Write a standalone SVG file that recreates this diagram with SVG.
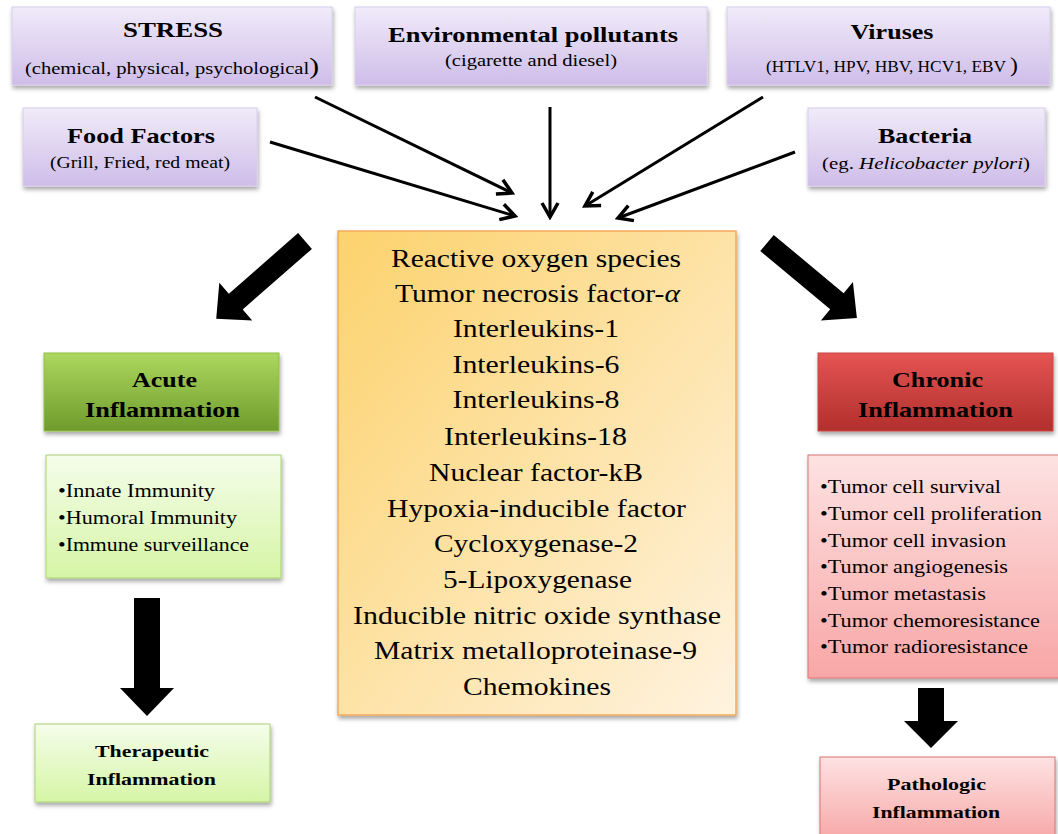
<svg xmlns="http://www.w3.org/2000/svg" width="1058" height="834" viewBox="0 0 1058 834">
<style>
text{font-family:'Liberation Serif','Times New Roman','DejaVu Serif',serif;fill:#000;text-anchor:middle}
.t{font-weight:bold;font-size:21px}
.s{font-size:16px}
.c{font-size:26px}
.l{font-size:18px;text-anchor:start}
.b{font-weight:bold;font-size:21px}
.p{font-weight:bold;font-size:17px}
.thin{stroke:#000;stroke-width:3;fill:none}
</style>
<defs>
<linearGradient id="gPur" x1="0" y1="0" x2="0" y2="1"><stop offset="0" stop-color="#f0ebf9"/><stop offset="1" stop-color="#cfbde9"/></linearGradient>
<linearGradient id="gOr" x1="0" y1="0" x2="1" y2="1"><stop offset="0" stop-color="#fcd26c"/><stop offset="1" stop-color="#fff3e0"/></linearGradient>
<linearGradient id="gGrn" x1="0" y1="0" x2="0" y2="1"><stop offset="0" stop-color="#acd85e"/><stop offset="1" stop-color="#6f9b2c"/></linearGradient>
<linearGradient id="gLg" x1="0" y1="0" x2="0" y2="1"><stop offset="0" stop-color="#f4fdea"/><stop offset="1" stop-color="#d6f5a6"/></linearGradient>
<linearGradient id="gRed" x1="0" y1="0" x2="0" y2="1"><stop offset="0" stop-color="#e45452"/><stop offset="1" stop-color="#b22f2d"/></linearGradient>
<linearGradient id="gPk" x1="0" y1="0" x2="0" y2="1"><stop offset="0" stop-color="#fde2e2"/><stop offset="1" stop-color="#f8a6a6"/></linearGradient>
<filter id="sh" x="-10%" y="-10%" width="120%" height="130%"><feDropShadow dx="1" dy="3" stdDeviation="2" flood-color="#000" flood-opacity="0.35"/></filter>
<marker id="ah" markerUnits="userSpaceOnUse" markerWidth="20" markerHeight="20" viewBox="0 0 20 20" refX="17" refY="10" orient="auto"><path d="M3,2 L17,10 L3,18" fill="none" stroke="#000" stroke-width="3.5"/></marker>
</defs>

<g id="stress">
<rect x="12" y="7" width="320" height="78" fill="url(#gPur)" stroke="#d8cdec" filter="url(#sh)"/>
<text class="t" x="173" y="37" textLength="100" lengthAdjust="spacingAndGlyphs">STRESS</text>
<text class="s" x="172" y="74" font-size="17" textLength="294" lengthAdjust="spacingAndGlyphs">(chemical, physical, psychological<tspan font-size="23">)</tspan></text>
</g>
<g id="pollutants">
<rect x="355" y="7" width="352" height="78" fill="url(#gPur)" stroke="#d8cdec" filter="url(#sh)"/>
<text class="t" x="533" y="42" font-size="22" textLength="290" lengthAdjust="spacingAndGlyphs">Environmental pollutants</text>
<text class="s" x="531" y="66" font-size="15" textLength="172" lengthAdjust="spacingAndGlyphs">(cigarette and diesel)</text>
</g>
<g id="viruses">
<rect x="727" y="7" width="323" height="78" fill="url(#gPur)" stroke="#d8cdec" filter="url(#sh)"/>
<text class="t" x="892" y="39" textLength="83" lengthAdjust="spacingAndGlyphs">Viruses</text>
<text class="s" x="892" y="72" font-size="15" textLength="252" lengthAdjust="spacingAndGlyphs">(HTLV1, HPV, HBV, HCV1, EBV <tspan font-size="22">)</tspan></text>
</g>
<g id="food">
<rect x="23" y="108" width="234" height="78" fill="url(#gPur)" stroke="#d8cdec" filter="url(#sh)"/>
<text class="t" x="141" y="143" textLength="148" lengthAdjust="spacingAndGlyphs">Food Factors</text>
<text class="s" x="140" y="168" textLength="180" lengthAdjust="spacingAndGlyphs">(Grill, Fried, red meat)</text>
</g>
<g id="bacteria">
<rect x="808" y="108" width="237" height="78" fill="url(#gPur)" stroke="#d8cdec" filter="url(#sh)"/>
<text class="t" x="925" y="143" textLength="94" lengthAdjust="spacingAndGlyphs">Bacteria</text>
<text class="s" x="926" y="169" textLength="208" lengthAdjust="spacingAndGlyphs">(eg. <tspan font-style="italic">Helicobacter pylori</tspan>)</text>
</g>

<g id="mediators">
<rect x="338" y="231" width="398" height="484" fill="url(#gOr)" stroke="#f5a95b" stroke-width="1.5" filter="url(#sh)"/>
<text class="c" x="536" y="267" textLength="290" lengthAdjust="spacingAndGlyphs">Reactive oxygen species</text>
<text class="c" x="537.5" y="302" textLength="285" lengthAdjust="spacingAndGlyphs">Tumor necrosis factor-<tspan font-style="italic">α</tspan></text>
<text class="c" x="536" y="337" textLength="166" lengthAdjust="spacingAndGlyphs">Interleukins-1</text>
<text class="c" x="536" y="373" textLength="167" lengthAdjust="spacingAndGlyphs">Interleukins-6</text>
<text class="c" x="536" y="408" textLength="167" lengthAdjust="spacingAndGlyphs">Interleukins-8</text>
<text class="c" x="535.5" y="445" textLength="183" lengthAdjust="spacingAndGlyphs">Interleukins-18</text>
<text class="c" x="536" y="481" textLength="214" lengthAdjust="spacingAndGlyphs">Nuclear factor-kB</text>
<text class="c" x="536.5" y="517" textLength="299" lengthAdjust="spacingAndGlyphs">Hypoxia-inducible factor</text>
<text class="c" x="536" y="552" textLength="204" lengthAdjust="spacingAndGlyphs">Cycloxygenase-2</text>
<text class="c" x="537.5" y="588" textLength="189" lengthAdjust="spacingAndGlyphs">5-Lipoxygenase</text>
<text class="c" x="537" y="624" textLength="368" lengthAdjust="spacingAndGlyphs">Inducible nitric oxide synthase</text>
<text class="c" x="535.5" y="659" textLength="323" lengthAdjust="spacingAndGlyphs">Matrix metalloproteinase-9</text>
<text class="c" x="537" y="695" textLength="148" lengthAdjust="spacingAndGlyphs">Chemokines</text>
</g>

<g id="acute">
<rect x="44" y="353" width="235" height="78" fill="url(#gGrn)" stroke="#8fbf45" filter="url(#sh)"/>
<text class="b" x="164.5" y="387" textLength="65" lengthAdjust="spacingAndGlyphs">Acute</text>
<text class="b" x="162.5" y="417" textLength="155" lengthAdjust="spacingAndGlyphs">Inflammation</text>
</g>
<g id="acute-list">
<rect x="46" y="455" width="235" height="123" fill="url(#gLg)" stroke="#a9d274" filter="url(#sh)"/>
<text class="l" x="58" y="497" textLength="157" lengthAdjust="spacingAndGlyphs">•Innate Immunity</text>
<text class="l" x="58" y="524" textLength="179" lengthAdjust="spacingAndGlyphs">•Humoral Immunity</text>
<text class="l" x="58" y="551" textLength="191" lengthAdjust="spacingAndGlyphs">•Immune surveillance</text>
</g>
<g id="therapeutic">
<rect x="35" y="724" width="235" height="78" fill="url(#gLg)" stroke="#a9d274" filter="url(#sh)"/>
<text class="p" x="152" y="757" textLength="114" lengthAdjust="spacingAndGlyphs">Therapeutic</text>
<text class="p" x="151.5" y="785" textLength="129" lengthAdjust="spacingAndGlyphs">Inflammation</text>
</g>

<g id="chronic">
<rect x="818" y="353" width="235" height="78" fill="url(#gRed)" stroke="#c94644" filter="url(#sh)"/>
<text class="b" x="937.5" y="387" textLength="91" lengthAdjust="spacingAndGlyphs">Chronic</text>
<text class="b" x="935.5" y="417" textLength="155" lengthAdjust="spacingAndGlyphs">Inflammation</text>
</g>
<g id="chronic-list">
<rect x="808" y="455" width="252" height="223" fill="url(#gPk)" stroke="#d87474" filter="url(#sh)"/>
<text class="l" x="820" y="493" textLength="181" lengthAdjust="spacingAndGlyphs">•Tumor cell survival</text>
<text class="l" x="820" y="520" textLength="222" lengthAdjust="spacingAndGlyphs">•Tumor cell proliferation</text>
<text class="l" x="820" y="547" textLength="186" lengthAdjust="spacingAndGlyphs">•Tumor cell invasion</text>
<text class="l" x="820" y="573" textLength="188" lengthAdjust="spacingAndGlyphs">•Tumor angiogenesis</text>
<text class="l" x="820" y="600" textLength="166" lengthAdjust="spacingAndGlyphs">•Tumor metastasis</text>
<text class="l" x="820" y="627" textLength="220" lengthAdjust="spacingAndGlyphs">•Tumor chemoresistance</text>
<text class="l" x="820" y="653" textLength="208" lengthAdjust="spacingAndGlyphs">•Tumor radioresistance</text>
</g>
<g id="pathologic">
<rect x="820" y="757" width="235" height="85" fill="url(#gPk)" stroke="#d87474" filter="url(#sh)"/>
<text class="p" x="936.5" y="790" textLength="99" lengthAdjust="spacingAndGlyphs">Pathologic</text>
<text class="p" x="936" y="818" textLength="128" lengthAdjust="spacingAndGlyphs">Inflammation</text>
</g>

<g id="connectors">
<line class="thin" x1="315" y1="97" x2="512" y2="193" marker-end="url(#ah)"/>
<line class="thin" x1="270" y1="142" x2="515" y2="216" marker-end="url(#ah)"/>
<line class="thin" x1="550" y1="107" x2="550" y2="217" marker-end="url(#ah)"/>
<line class="thin" x1="763" y1="97" x2="585" y2="206" marker-end="url(#ah)"/>
<line class="thin" x1="795" y1="152" x2="618" y2="218" marker-end="url(#ah)"/>
<polygon transform="translate(305,241) rotate(138.8)" points="0,-10.5 92,-10.5 92,-25 118,0 92,25 92,10.5 0,10.5" fill="#000"/>
<polygon transform="translate(767,243) rotate(39.8)" points="0,-10.5 91,-10.5 91,-25 117,0 91,25 91,10.5 0,10.5" fill="#000"/>
<polygon points="134,598 160,598 160,688 174,688 147,716 120,688 134,688" fill="#000"/>
<polygon points="918,688 944,688 944,721 958,721 931,748 904,721 918,721" fill="#000"/>
</g>
</svg>
